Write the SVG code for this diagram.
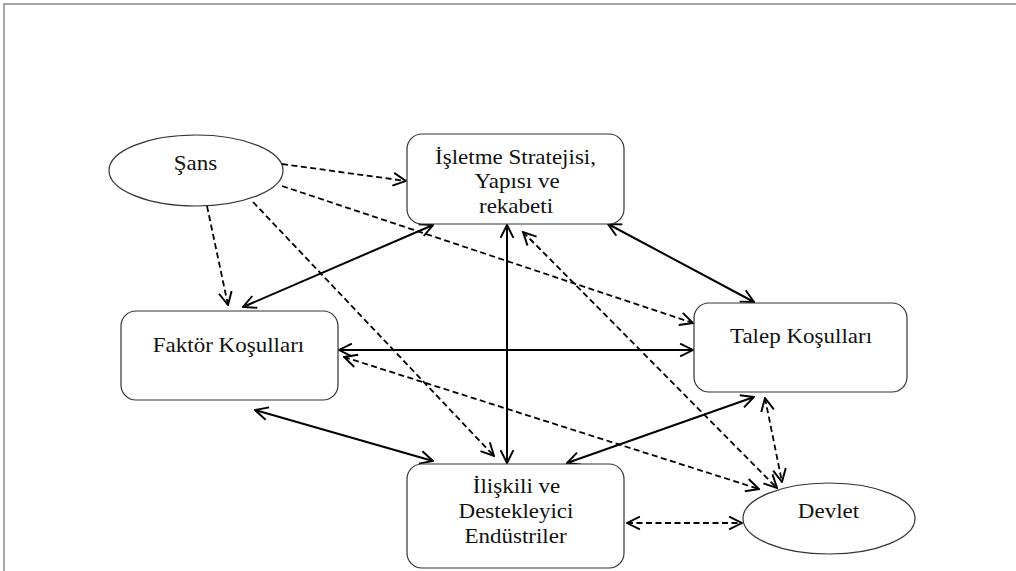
<svg xmlns="http://www.w3.org/2000/svg" width="1016" height="571" viewBox="0 0 1016 571">
<defs>
<style>
.node{fill:#fff;stroke:#333;stroke-width:1.2}
.s{fill:none;stroke:#000;stroke-width:2}
.d{fill:none;stroke:#000;stroke-width:1.8;stroke-dasharray:6 3.5}
</style>
<marker id="a" viewBox="0 0 14 14" refX="13" refY="7" markerWidth="15" markerHeight="15" markerUnits="userSpaceOnUse" orient="auto-start-reverse">
<path d="M1,1 L13,7 L1,13" fill="none" stroke="#000" stroke-width="1.8" stroke-dasharray="none"/>
</marker>
</defs>
<rect width="1016" height="571" fill="#fff"/>
<path d="M4,571 V4 H1016" fill="none" stroke="#888" stroke-width="1.5"/>

<g id="connectors">
<line class="d" x1="282" y1="164" x2="406" y2="181" marker-end="url(#a)"/>
<line class="d" x1="282" y1="186" x2="693" y2="323" marker-end="url(#a)"/>
<line class="d" x1="207" y1="206" x2="228" y2="305" marker-end="url(#a)"/>
<line class="d" x1="253" y1="202" x2="494" y2="456" marker-end="url(#a)"/>
<line class="s" x1="243" y1="307" x2="433" y2="225" marker-start="url(#a)" marker-end="url(#a)"/>
<line class="s" x1="507" y1="225" x2="507" y2="463" marker-start="url(#a)" marker-end="url(#a)"/>
<line class="s" x1="608" y1="224" x2="754" y2="302" marker-start="url(#a)" marker-end="url(#a)"/>
<line class="d" x1="523" y1="232" x2="777" y2="488" marker-start="url(#a)" marker-end="url(#a)"/>
<line class="s" x1="339" y1="350" x2="693" y2="350" marker-start="url(#a)" marker-end="url(#a)"/>
<line class="d" x1="344" y1="357" x2="759" y2="489" marker-start="url(#a)" marker-end="url(#a)"/>
<line class="s" x1="255" y1="410" x2="433" y2="461" marker-start="url(#a)" marker-end="url(#a)"/>
<line class="s" x1="754" y1="397" x2="567" y2="463" marker-start="url(#a)" marker-end="url(#a)"/>
<line class="d" x1="765" y1="398" x2="782" y2="482" marker-start="url(#a)" marker-end="url(#a)"/>
<line class="d" x1="627" y1="523" x2="742" y2="523" marker-start="url(#a)" marker-end="url(#a)"/>
</g>

<g font-family="Liberation Serif, Times New Roman, serif" font-size="20" fill="#111" text-anchor="middle" transform="translate(0,0)">
<g id="sans">
<ellipse class="node" cx="196" cy="170.5" rx="87" ry="35.5"/>
<text transform="translate(195.5,170) scale(1.15,1)">Şans</text>
</g>

<g id="isletme">
<rect class="node" x="407" y="134" width="217" height="90" rx="15"/>
<text transform="translate(515.5,164) scale(1.15,1)">İşletme Stratejisi,</text>
<text transform="translate(517,188) scale(1.15,1)">Yapısı ve</text>
<text transform="translate(516,212.5) scale(1.15,1)">rekabeti</text>
</g>

<g id="faktor">
<rect class="node" x="121" y="311" width="217" height="89" rx="15"/>
<text transform="translate(228.5,352) scale(1.15,1)">Faktör Koşulları</text>
</g>

<g id="talep">
<rect class="node" x="694" y="303" width="213" height="89" rx="15"/>
<text transform="translate(801,343) scale(1.15,1)">Talep Koşulları</text>
</g>

<g id="iliskili">
<rect class="node" x="407" y="464" width="217" height="104" rx="15"/>
<text transform="translate(516.5,493) scale(1.15,1)">İlişkili ve</text>
<text transform="translate(516,518) scale(1.15,1)">Destekleyici</text>
<text transform="translate(515.5,543) scale(1.15,1)">Endüstriler</text>
</g>

<g id="devlet">
<ellipse class="node" cx="829" cy="518.5" rx="86" ry="35.5"/>
<text transform="translate(828.5,518) scale(1.15,1)">Devlet</text>
</g>
</g>
</svg>
